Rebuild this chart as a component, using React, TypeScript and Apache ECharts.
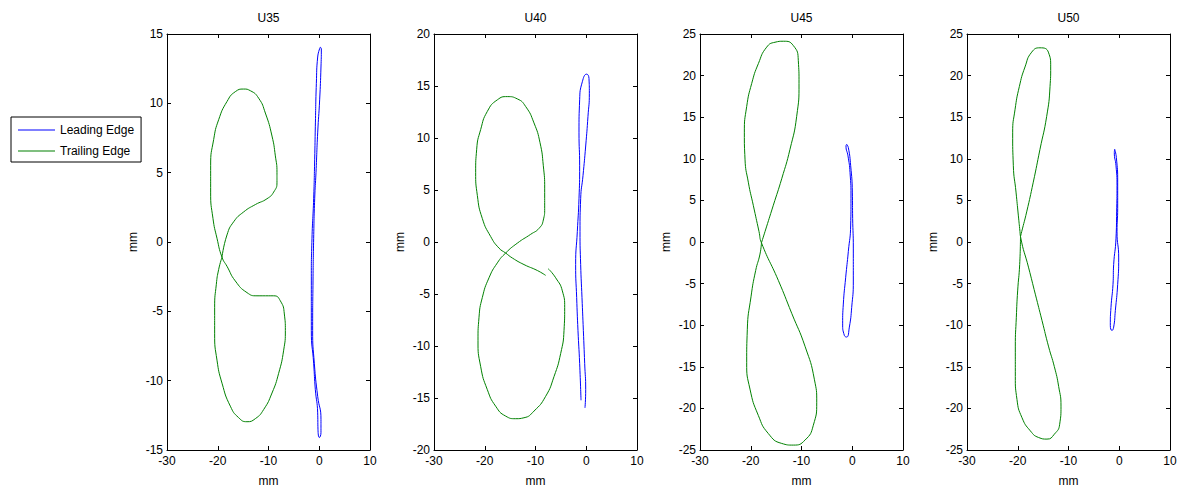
import React, { useEffect, useRef } from "react";
import * as echarts from "echarts";

// ---------- data ----------
const panelTitles = ["U35", "U40", "U45", "U50"];
const seriesNames = ["Leading Edge", "Trailing Edge"];
const xRange = [-30, 10];
const xStep = 10;
const yRanges = [
  [-15, 15],
  [-20, 20],
  [-25, 25],
  [-25, 25],
];
const yStep = 5;

const leadingU35 = [
  [0.21, 14.05], [0.41, 13.93], [0.34, 12.62], [0.08, 10.25], [-0.31, 7.87], [-0.64, 5.02],
  [-0.9, 3.12], [-1.1, 0.27], [-1.23, -2.81], [-1.3, -6.38], [-0.97, -8.75], [-0.31, -11.13],
  [0.34, -12.79], [0.34, -13.74], [0.02, -14.1], [-0.25, -13.5], [-0.31, -12.32], [-0.77, -10.65],
  [-1.1, -8.75], [-1.56, -6.38], [-1.56, -2.81], [-1.43, 0.27], [-1.1, 3.12], [-0.9, 5.97],
  [-0.77, 8.35], [-0.57, 11.44], [-0.31, 13.34], [0.21, 14.05],
];
const trailingU35 = [
  [-19.16, -1.1], [-18.18, 0.51], [-16.86, 1.46], [-14.89, 2.17], [-12.59, 2.7], [-10.3, 3.12],
  [-8.98, 3.6], [-8.33, 4.31], [-8.33, 5.02], [-8.65, 6.21], [-9.31, 7.64], [-10.62, 9.3],
  [-11.94, 10.37], [-13.58, 10.91], [-14.89, 11.03], [-16.54, 10.84], [-18.18, 10.13], [-19.82, 8.82],
  [-20.8, 7.4], [-21.4, 5.5], [-21.4, 3.6], [-20.94, 1.7], [-20.15, 0.27], [-19.16, -1.1],
  [-18.18, -1.75], [-16.54, -2.81], [-14.24, -3.65], [-12.27, -3.88], [-8.98, -3.88], [-7.67, -4.24],
  [-6.88, -5.19], [-6.68, -6.38], [-7.01, -7.8], [-8.0, -9.47], [-9.31, -10.89], [-10.95, -12.08],
  [-12.59, -12.74], [-14.24, -12.96], [-15.88, -12.67], [-17.52, -11.84], [-19.16, -10.18],
  [-20.15, -8.52], [-20.61, -6.62], [-20.61, -4.71], [-20.28, -3.05], [-19.82, -1.98], [-19.16, -1.1],
];

const leadingU40 = [
  [-1.03, -15.22], [-1.3, -11.67], [-1.63, -8.5], [-1.89, -5.34], [-2.09, -2.17], [-1.76, 1.0],
  [-1.43, 4.16], [-1.3, 7.33], [-1.43, 10.5], [-1.3, 13.67], [-0.77, 15.41], [0.08, 16.14],
  [0.54, 15.72], [0.61, 14.3], [0.34, 12.08], [-0.11, 9.23], [-0.64, 6.38], [-1.1, 4.16],
  [-1.23, 1.0], [-1.1, -2.17], [-0.84, -5.34], [-0.57, -8.5], [-0.31, -11.67], [-0.11, -14.2],
  [-0.25, -15.95],
];
const trailingU40 = [
  [-7.47, -2.58], [-6.03, -3.44], [-4.71, -4.7], [-4.25, -6.29], [-4.38, -8.5], [-5.04, -10.72],
  [-6.35, -12.94], [-8.0, -14.84], [-10.3, -16.26], [-12.27, -16.9], [-13.91, -16.99], [-15.88, -16.74],
  [-17.85, -15.79], [-19.49, -14.2], [-20.8, -11.99], [-21.33, -9.45], [-21.13, -7.24], [-20.48, -5.34],
  [-19.16, -3.44], [-17.52, -2.01], [-15.88, -1.06], [-13.58, -0.11], [-10.95, 0.74], [-9.31, 1.31],
  [-8.46, 2.11], [-8.19, 3.21], [-8.19, 5.11], [-8.46, 7.33], [-9.11, 9.55], [-10.3, 11.45],
  [-11.94, 13.03], [-13.58, 13.76], [-15.55, 13.98], [-17.52, 13.67], [-19.49, 12.56], [-20.8, 10.82],
  [-21.59, 8.92], [-21.79, 6.7], [-21.46, 4.48], [-20.48, 2.26], [-18.83, 0.52], [-17.19, -0.59],
  [-15.88, -1.06], [-14.56, -1.54], [-12.27, -2.17], [-9.64, -2.74], [-8.0, -3.21],
];

const leadingU45 = [
  [-1.1, 11.74], [-0.77, 11.34], [-0.31, 9.16], [0.02, 6.0], [0.08, 2.83], [0.21, -0.73],
  [0.21, -4.69], [-0.11, -7.86], [-0.57, -10.23], [-1.1, -11.42], [-1.56, -11.22], [-1.89, -9.84],
  [-1.76, -7.46], [-1.3, -4.3], [-0.77, -1.13], [-0.31, 2.04], [-0.25, 5.21], [-0.44, 8.37],
  [-0.84, 10.35], [-1.23, 11.54], [-1.1, 11.74],
];
const trailingU45 = [
  [-17.89, -0.1], [-17.19, 1.25], [-15.55, 4.42], [-13.9, 7.6], [-12.27, 11.14], [-10.95, 15.1],
  [-10.49, 19.06], [-10.63, 21.83], [-11.61, 23.61], [-13.58, 24.13], [-15.22, 24.01], [-16.86, 23.42],
  [-18.5, 21.44], [-19.81, 19.06], [-20.8, 16.29], [-21.26, 13.12], [-21.13, 9.96], [-20.48, 7.19],
  [-19.5, 4.41], [-18.37, 1.25], [-17.89, -0.1], [-14.57, -4.61], [-11.93, -8.57],
  [-9.31, -12.53], [-7.47, -16.49], [-7.0, -19.26], [-7.67, -22.03], [-9.31, -23.81], [-11.61, -24.41],
  [-13.9, -24.21], [-16.54, -23.02], [-18.51, -20.84], [-20.15, -17.68], [-20.8, -14.51], [-20.68, -10.55],
  [-19.95, -6.59], [-19.03, -3.42], [-18.18, -1.45], [-17.89, -0.1],
];

const leadingU50 = [
  [-0.9, 11.14], [-0.57, 10.15], [-0.31, 7.19], [-0.31, 4.02], [-0.44, 1.25], [-0.11, -1.92],
  [-0.31, -5.09], [-0.77, -8.25], [-1.1, -10.23], [-1.43, -10.63], [-1.76, -10.04], [-1.63, -7.86],
  [-1.23, -5.09], [-1.1, -2.71], [-0.64, 0.46], [-0.51, 3.62], [-0.44, 6.79], [-0.64, 9.16],
  [-0.97, 10.75], [-0.9, 11.14],
];
const trailingU50 = [
  [-19.46, 0.66], [-19.22, 1.25], [-18.24, 3.62], [-16.94, 7.19], [-15.62, 11.14], [-14.3, 15.1],
  [-13.64, 18.67], [-13.51, 21.04], [-13.97, 22.82], [-15.62, 23.34], [-17.25, 22.82], [-18.57, 21.04],
  [-19.69, 18.67], [-20.54, 15.89], [-21.0, 13.12], [-20.87, 9.17], [-20.34, 6.0], [-19.89, 3.23],
  [-19.56, 1.25], [-19.46, 0.66], [-17.85, -3.11], [-16.54, -6.27], [-15.22, -9.44], [-13.91, -12.61],
  [-12.79, -14.98], [-11.94, -17.36], [-11.48, -19.73], [-11.74, -21.91], [-12.79, -23.1], [-14.24, -23.69],
  [-15.88, -23.5], [-17.52, -22.7], [-19.16, -21.12], [-20.15, -18.94], [-20.48, -16.17], [-20.48, -12.61],
  [-20.28, -9.05], [-20.02, -5.88], [-19.62, -2.71], [-19.46, 0.66],
];

const leadingData = [leadingU35, leadingU40, leadingU45, leadingU50];
const trailingData = [trailingU35, trailingU40, trailingU45, trailingU50];

// ---------- layout / style ----------
const FONT = "'Liberation Sans', Arial, Helvetica, sans-serif";
const TEXT = "#000";
const AXIS = "#000";
const gridLefts = [167, 434, 700, 967];
const gridTop = 34;
const gridW = 203;
const gridH = 421;
const colors = ["#0000ff", "#008000"];

function buildOption() {
  const n = panelTitles.length;
  const grid = gridLefts.map((l) => ({ left: l, top: gridTop, width: gridW, height: gridH, containLabel: false }));
  const lineStyle = { color: AXIS, width: 1 };
  const xAxis: any[] = [];
  const yAxis: any[] = [];
  for (let i = 0; i < n; i++) {
    xAxis.push({
      gridIndex: i, type: "value", position: "bottom", min: xRange[0], max: xRange[1], interval: xStep,
      name: "mm", nameLocation: "middle", nameGap: 25,
      nameTextStyle: { fontSize: 12, color: TEXT, fontFamily: FONT },
      axisLine: { show: true, onZero: false, lineStyle },
      axisTick: { show: true, inside: true, length: 4, lineStyle },
      axisLabel: { margin: 5, fontSize: 12, color: TEXT, fontFamily: FONT },
      splitLine: { show: false },
    });
  }
  for (let i = 0; i < n; i++) {
    xAxis.push({
      gridIndex: i, type: "value", position: "top", min: xRange[0], max: xRange[1], interval: xStep,
      axisLine: { show: true, onZero: false, lineStyle },
      axisTick: { show: true, inside: true, length: 4, lineStyle },
      axisLabel: { show: false },
      splitLine: { show: false },
    });
  }
  for (let i = 0; i < n; i++) {
    yAxis.push({
      gridIndex: i, type: "value", position: "left", min: yRanges[i][0], max: yRanges[i][1], interval: yStep,
      name: "mm", nameLocation: "middle", nameGap: 28, nameRotate: 90,
      nameTextStyle: { fontSize: 12, color: TEXT, fontFamily: FONT },
      axisLine: { show: true, onZero: false, lineStyle },
      axisTick: { show: true, inside: true, length: 4, lineStyle },
      axisLabel: { margin: 4, fontSize: 12, color: TEXT, fontFamily: FONT },
      splitLine: { show: false },
    });
  }
  for (let i = 0; i < n; i++) {
    yAxis.push({
      gridIndex: i, type: "value", position: "right", min: yRanges[i][0], max: yRanges[i][1], interval: yStep,
      axisLine: { show: true, onZero: false, lineStyle },
      axisTick: { show: true, inside: true, length: 4, lineStyle },
      axisLabel: { show: false },
      splitLine: { show: false },
    });
  }
  const series: any[] = [];
  for (let i = 0; i < n; i++) {
    [leadingData[i], trailingData[i]].forEach((d, k) => {
      series.push({
        type: "line", name: seriesNames[k], xAxisIndex: i, yAxisIndex: i, data: d,
        showSymbol: false, symbol: "none", smooth: 0.55, clip: true,
        lineStyle: { color: colors[k], width: 1 }, itemStyle: { color: colors[k] },
      });
    });
  }
  const graphic = panelTitles.map((t, i) => ({
    type: "text",
    x: gridLefts[i] + gridW / 2,
    y: 18,
    style: {
      text: t, align: "center", verticalAlign: "middle", textAlign: "center", textVerticalAlign: "middle",
      fontSize: 12, fontFamily: FONT, fill: TEXT,
    },
  }));
  return {
    animation: false,
    backgroundColor: "#fff",
    grid, xAxis, yAxis, series, graphic,
    legend: {
      data: seriesNames, orient: "vertical", left: 11, top: 117,
      borderColor: "#000", borderWidth: 1, padding: [7, 7, 5, 7], itemGap: 9,
      icon: "rect", itemWidth: 37, itemHeight: 1,
      textStyle: { fontSize: 12, color: TEXT, fontFamily: FONT },
      selectedMode: false,
    },
  };
}

export default function App() {
  const ref = useRef<HTMLDivElement>(null);
  useEffect(() => {
    document.body.style.margin = "0";
    const chart = echarts.init(ref.current!, null, { renderer: "svg" });
    chart.setOption(buildOption() as any);
    return () => chart.dispose();
  }, []);
  return (
    <div
      ref={ref}
      style={{ position: "fixed", left: 0, top: 0, width: 1183, height: 492, background: "#fff" }}
    />
  );
}
